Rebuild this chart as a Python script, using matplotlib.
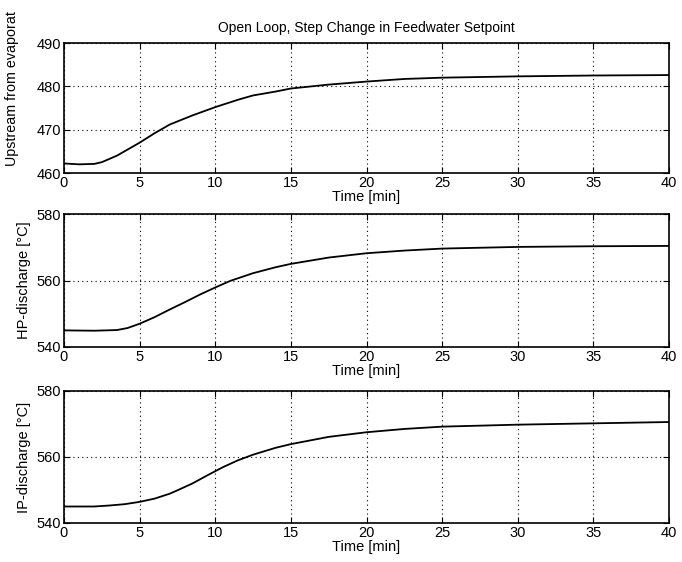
import matplotlib.pyplot as plt
import numpy as np

plt.rcParams['font.family'] = ['Liberation Sans', 'DejaVu Sans']

# time [min] and values
t_up = [0, 1, 2, 2.5, 3.5, 5, 6, 7, 8.5, 10, 11.5, 12.5, 14, 15, 17.5, 20, 22.5, 25, 30, 35, 40]
upstream = [462.2, 462.0, 462.1, 462.5, 464.0, 467.0, 469.2, 471.2, 473.3, 475.2, 476.9, 477.9, 478.8, 479.5, 480.4, 481.1, 481.7, 482.0, 482.3, 482.5, 482.6]

t_hp = [0, 2, 3.5, 4.2, 5, 6, 7, 8, 9, 10, 11, 12.5, 14, 15, 17.5, 20, 22.5, 25, 30, 35, 40]
hp_discharge = [545.0, 544.9, 545.1, 545.7, 547.0, 549.0, 551.3, 553.5, 555.8, 557.9, 559.9, 562.2, 564.0, 565.0, 566.9, 568.2, 569.0, 569.6, 570.1, 570.3, 570.4]

t_ip = [0, 2, 3, 4, 5, 6, 7, 7.5, 8.5, 9.5, 10.5, 11.5, 12.5, 14, 15, 17.5, 20, 22.5, 25, 30, 35, 40]
ip_discharge = [545.0, 545.0, 545.3, 545.7, 546.4, 547.4, 548.9, 549.9, 552.0, 554.5, 556.9, 559.0, 560.7, 562.8, 563.9, 566.1, 567.5, 568.5, 569.2, 569.8, 570.2, 570.6]

xticks = [0, 5, 10, 15, 20, 25, 30, 35, 40]

fig = plt.figure(figsize=(6.82, 5.62), dpi=100)
W, H = 682.0, 562.0

def make_ax(top, bottom):
    left, right = 64, 669
    return fig.add_axes([left / W, 1 - bottom / H, (right - left) / W, (bottom - top) / H])

panels = [
    (43, 173, t_up, upstream, [460, 470, 480, 490], (460, 490), None),
    (214, 347, t_hp, hp_discharge, [540, 560, 580], (540, 580), 'HP-discharge [°C]'),
    (391, 523, t_ip, ip_discharge, [540, 560, 580], (540, 580), 'IP-discharge [°C]'),
]

for top, bottom, x, y, yt, ylim, ylab in panels:
    ax = make_ax(top, bottom)
    ax.plot(x, y, color='black', linewidth=1.3)
    ax.set_xlim(0, 40)
    ax.set_ylim(*ylim)
    ax.set_xticks(xticks)
    ax.set_yticks(yt)
    ax.grid(True, linestyle=(0, (1, 3)), color='black', linewidth=0.8)
    ax.tick_params(direction='in', top=True, right=True, labelsize=10.5, length=4, pad=2)
    for s in ax.spines.values():
        s.set_linewidth(1.2)
    ax.set_xlabel('Time [min]', fontsize=10.5, labelpad=0)
    if ylab:
        ax.set_ylabel(ylab, fontsize=10.5, labelpad=4)
    if top == 43:
        ax.set_title('Open Loop, Step Change in Feedwater Setpoint', fontsize=10, pad=8)

# first y label appears truncated in the reference
fig.text(12 / W, 1 - 166 / H, 'Upstream from evaporat', rotation=90,
         ha='center', va='bottom', fontsize=10.3)

fig.savefig('out.png', dpi=100)
